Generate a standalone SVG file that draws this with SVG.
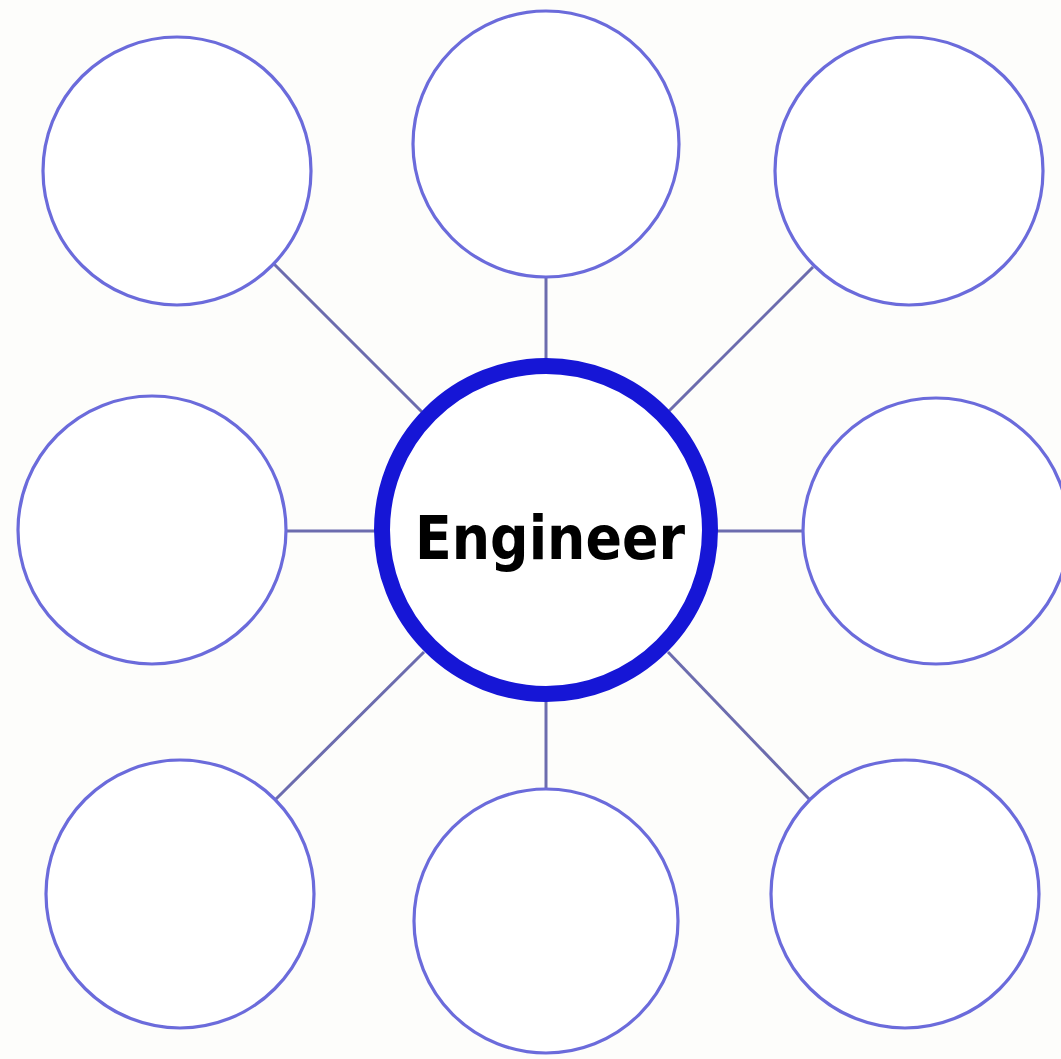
<svg xmlns="http://www.w3.org/2000/svg" width="1061" height="1059" viewBox="0 0 1061 1059">
  <style>
    .sat { fill: #ffffff; stroke: #6b6bdb; stroke-width: 3.2; }
    .hub { fill: #ffffff; stroke: #1616d6; stroke-width: 16; }
    .conn { stroke: #6c6cae; stroke-width: 3; fill: none; }
    .label { font-family: "DejaVu Sans", "Liberation Sans", sans-serif; font-weight: bold; font-size: 61px; fill: #000000; }
  </style>
  <rect width="1061" height="1059" fill="#fdfdfb"/>
  <g id="connectors">
    <line class="conn" x1="273" y1="263" x2="425" y2="415"/>
    <line class="conn" x1="546" y1="277" x2="546" y2="360"/>
    <line class="conn" x1="813" y1="267" x2="668" y2="412"/>
    <line class="conn" x1="286" y1="531" x2="376" y2="531"/>
    <line class="conn" x1="717" y1="531" x2="803" y2="531"/>
    <line class="conn" x1="275" y1="800" x2="424" y2="652"/>
    <line class="conn" x1="546" y1="700" x2="546" y2="790"/>
    <line class="conn" x1="668" y1="652" x2="810" y2="800"/>
  </g>
  <g id="node-top-left"><circle class="sat" cx="177" cy="171" r="134"/></g>
  <g id="node-top"><circle class="sat" cx="546" cy="144" r="133"/></g>
  <g id="node-top-right"><circle class="sat" cx="909" cy="171" r="134"/></g>
  <g id="node-left"><circle class="sat" cx="152" cy="530" r="134"/></g>
  <g id="node-right"><circle class="sat" cx="936" cy="531" r="133"/></g>
  <g id="node-bottom-left"><circle class="sat" cx="180" cy="894" r="134"/></g>
  <g id="node-bottom"><circle class="sat" cx="546" cy="921" r="132"/></g>
  <g id="node-bottom-right"><circle class="sat" cx="905" cy="894" r="134"/></g>
  <g id="node-center">
    <circle class="hub" cx="546" cy="530" r="164"/>
    <text class="label" x="550" y="559" text-anchor="middle" textLength="270" lengthAdjust="spacingAndGlyphs">Engineer</text>
  </g>
</svg>
